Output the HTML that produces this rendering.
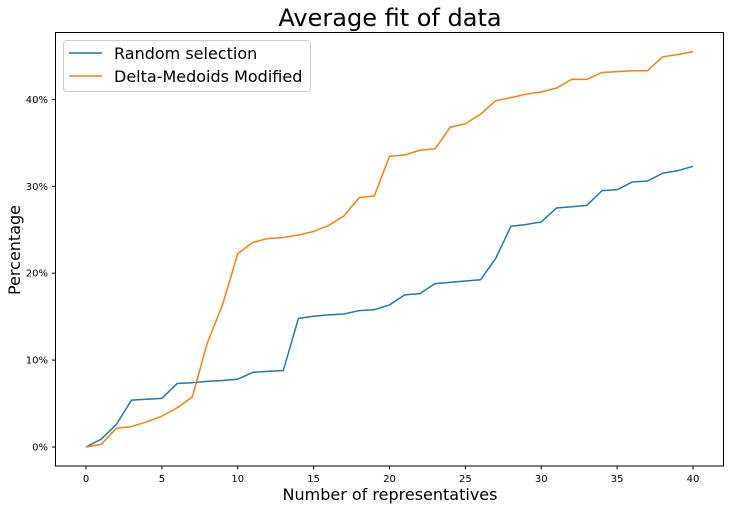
<!DOCTYPE html>
<html><head><meta charset="utf-8"><style>
body{margin:0;background:#fff;}
svg text{font-family:"DejaVu Sans","Liberation Sans",sans-serif;fill:#000;}
</style></head><body>
<svg id="chart" width="735" height="510" xmlns="http://www.w3.org/2000/svg">
<rect width="735" height="510" fill="#fff"/>
<text x="390" y="26" font-size="24" text-anchor="middle">Average fit of data</text>
<g id="grid"></g>
<g id="lines"></g>
<rect x="55.5" y="32.5" width="668" height="433.5" fill="none" stroke="#000" stroke-width="1"/>
<g id="ticks"></g>
<text x="390" y="500" font-size="16" text-anchor="middle">Number of representatives</text>
<text transform="translate(20,250) rotate(-90)" font-size="16" text-anchor="middle">Percentage</text>
<g>
<rect x="63.5" y="40.5" width="247" height="51" rx="3" fill="#fff" fill-opacity="0.8" stroke="#ccc"/>
<line x1="69" y1="53" x2="102" y2="53" stroke="#1f77b4" stroke-width="1.5"/>
<text x="114" y="59" font-size="16">Random selection</text>
<line x1="69" y1="76" x2="102" y2="76" stroke="#ff7f0e" stroke-width="1.5"/>
<text x="114" y="82" font-size="16">Delta-Medoids Modified</text>
</g>
</svg>
<script>
const xValues=[];for(let i=0;i<=40;i++)xValues.push(i);
const randomSel=[0,0.9,2.6,5.4,5.5,5.6,7.3,7.4,7.55,7.65,7.8,8.6,8.7,8.8,14.8,15.05,15.2,15.3,15.7,15.8,16.35,17.5,17.65,18.8,18.95,19.1,19.25,21.7,25.4,25.6,25.9,27.5,27.65,27.8,29.5,29.6,30.5,30.6,31.5,31.8,32.3];
const deltaMed=[0,0.3,2.15,2.35,2.9,3.55,4.5,5.75,12.0,16.4,22.25,23.55,24.0,24.1,24.4,24.8,25.5,26.6,28.7,28.9,33.45,33.6,34.15,34.3,36.8,37.2,38.3,39.85,40.2,40.6,40.85,41.3,42.3,42.3,43.1,43.2,43.3,43.3,44.9,45.15,45.5];
const xTicks=[0,5,10,15,20,25,30,35,40];
const yTicks=[0,10,20,30,40];
const yTickLabels=["0%","10%","20%","30%","40%"];
const NS="http://www.w3.org/2000/svg";
function xs(v){return 86+v*15.175;}
function ys(v){return 447-v*8.69;}
const lines=document.getElementById('lines'),ticks=document.getElementById('ticks');
function mk(t,a,p){const e=document.createElementNS(NS,t);for(const k in a)e.setAttribute(k,a[k]);p.appendChild(e);return e;}
function series(vals,color,name){
 const d=vals.map((v,i)=>(i?'L':'M')+xs(xValues[i]).toFixed(2)+' '+ys(v).toFixed(2)).join(' ');
 const p=mk('path',{d:d,fill:'none',stroke:color,'stroke-width':1.5,'stroke-linejoin':'round'},lines);
 
 
}
series(randomSel,'#1f77b4','random-selection-line');
series(deltaMed,'#ff7f0e','delta-medoids-line');
xTicks.forEach(v=>{
 const x=xs(v);
 mk('line',{x1:x,y1:466,x2:x,y2:469.5,stroke:'#000'},ticks);
 const t=mk('text',{x:x,y:482,'font-size':10,'text-anchor':'middle'},ticks);
 t.textContent=v;
 
 
});
yTicks.forEach((v,i)=>{
 const y=ys(v);
 mk('line',{x1:52,y1:y,x2:55.5,y2:y,stroke:'#000'},ticks);
 const t=mk('text',{x:48,y:y+3.5,'font-size':10,'text-anchor':'end'},ticks);
 t.textContent=yTickLabels[i];
 
 
});
</script>
</body></html>
